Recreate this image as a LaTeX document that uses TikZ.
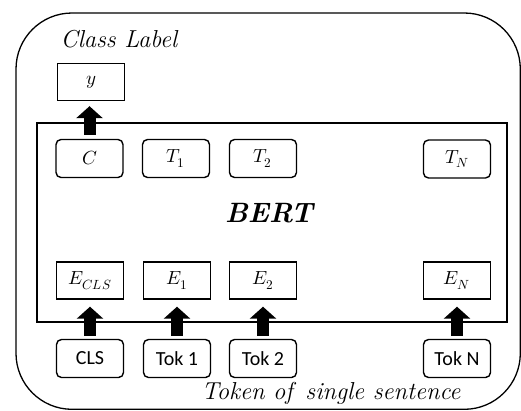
\documentclass[tikz,border=0pt]{standalone}
\usepackage{fontspec}
\usepackage{unicode-math}
\setmathfont{Latin Modern Math}
\newfontfamily\tokfont{Carlito}
\newcommand\mlab[1]{{\fontsize{19}{22}\selectfont$#1$}}
\usetikzlibrary{arrows.meta}
\tikzset{
  rbox/.style={draw, line width=1.4pt, rounded corners=5pt, minimum width=67pt, minimum height=38pt, inner sep=0pt},
  sbox/.style={draw, line width=1.4pt, minimum width=67pt, minimum height=37pt, inner sep=0pt},
  tbox/.style={rbox, font=\tokfont\fontsize{20}{22}\selectfont},
  fat/.style={line width=12pt, -{Triangle[width=26pt,length=12pt]}},
  caption/.style={font=\itshape\fontsize{24.5}{28}\selectfont, inner sep=0pt}
}
\begin{document}
\begin{tikzpicture}[x=1pt,y=-1pt]
  \useasboundingbox (0,0) rectangle (521,410);
  \fill[white] (0,0) rectangle (521,410);
  % outer frame
  \draw[line width=1.3pt, rounded corners=56pt] (16,13) rectangle (520.3,409.3);
  % BERT block
  \draw[line width=1.3pt] (37,123) rectangle (507,322);
  \node[font=\bfseries\itshape\fontsize{28}{32}\selectfont] (bert) at (269,213) {BERT};
  % captions
  \node[caption] (cl) at (119,39) {Class Label};
  \node[caption] (ts) at (331,393) {Token of\, single sentence};
  % output label
  \node[sbox] (y) at (91,82) {\mlab{y}};
  % top row
  \node[rbox] (c)  at (89.5,158.5) {\mlab{C}};
  \node[rbox] (t1) at (176,158.5) {\mlab{T_1}};
  \node[rbox] (t2) at (263,158.5) {\mlab{T_2}};
  \node[rbox] (tn) at (457,159) {\mlab{T_N}};
  % embeddings row
  \node[sbox] (ecls) at (90,280.5) {\mlab{E_{CLS}}};
  \node[sbox] (e1)   at (177,280.5) {\mlab{E_1}};
  \node[sbox] (e2)   at (263,280.5) {\mlab{E_2}};
  \node[sbox] (en)   at (457,280.5) {\mlab{E_N}};
  % token row
  \node[tbox] (cls)  at (90,358.5) {CLS};
  \node[tbox] (tok1) at (177,358.5) {Tok 1};
  \node[tbox] (tok2) at (263,358.5) {Tok 2};
  \node[tbox] (tokn) at (457,358.5) {Tok N};
  % arrows
  \draw[fat, shorten <=4pt, shorten >=5pt] (c.north) -- (c.north |- y.south);
  \foreach \a/\b in {cls/ecls, tok1/e1, tok2/e2, tokn/en}
    \draw[fat, shorten <=3pt, shorten >=7pt] (\a.north) -- (\b.south);
\end{tikzpicture}
\end{document}
